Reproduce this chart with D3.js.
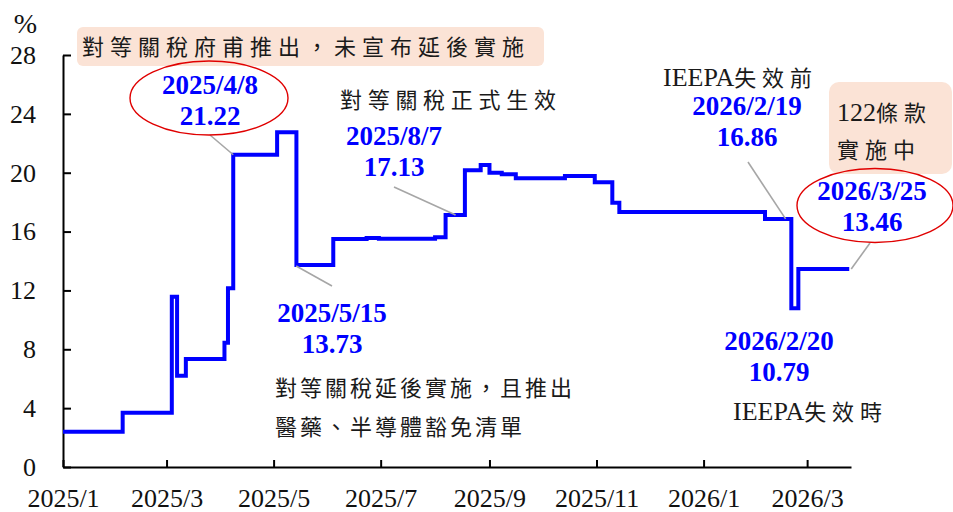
<!DOCTYPE html>
<html>
<head>
<meta charset="utf-8">
<script src="https://cdn.jsdelivr.net/npm/d3@7"></script>
<style>
  html, body { margin: 0; padding: 0; background: #fff; }
  svg { display: block; }
</style>
</head>
<body>
<svg id="chart" width="953" height="512"></svg>
<script>
// Effective US tariff rate (%), step series: each value holds from its date until the next one
const dates = ["2025-01-01","2025-02-04","2025-03-04","2025-03-07","2025-03-12","2025-04-03","2025-04-05",
  "2025-04-08","2025-05-03","2025-05-14","2025-06-04","2025-06-23","2025-06-30","2025-08-01","2025-08-07",
  "2025-08-18","2025-08-27","2025-09-01","2025-09-08","2025-09-16","2025-10-14","2025-10-31","2025-11-10",
  "2025-11-14","2026-02-05","2026-02-20","2026-02-24","2026-03-25"];
const rates = [2.40,3.69,11.57,6.20,7.34,8.45,12.14,
  21.22,22.75,13.73,15.50,15.56,15.52,15.62,17.13,
  20.16,20.52,20.00,19.90,19.62,19.78,19.35,17.96,
  17.33,16.86,10.79,13.46,13.46];

const xTickDates = ["2025-01-01","2025-03-01","2025-05-01","2025-07-01","2025-09-01","2025-11-01","2026-01-01","2026-03-01"];
const yTicks = [0,4,8,12,16,20,24,28];
const xDomain = ["2025-01-01","2026-03-26"];

// Called-out dates on the series
const calloutDates = ["2025-04-08","2025-05-15","2025-08-07","2026-02-19","2026-02-20","2026-03-25"];

const parse = d3.timeParse("%Y-%m-%d");
const series = dates.map((d, i) => ({ date: parse(d), value: rates[i] }));

const svg = d3.select("#chart");
const x = d3.scaleTime().domain(xDomain.map(parse)).range([63, 851]);
const y = d3.scaleLinear().domain([0, 28]).range([467, 55]);

const BLUE = "#0000ff";
const SERIF = "'Liberation Serif','Times New Roman',serif";
const CJK = "'Noto Sans CJK TC','Noto Sans CJK SC',sans-serif";

// value of the step series on a given day
const bis = d3.bisector(d => d.date).right;
function valueAt(date) { return series[Math.max(0, bis(series, date) - 1)].value; }

// ---- peach note boxes
svg.append("rect").attr("x", 77).attr("y", 27).attr("width", 467).attr("height", 39)
  .attr("rx", 6).attr("fill", "#fbe3d6");
svg.append("rect").attr("x", 829).attr("y", 82).attr("width", 123).attr("height", 92)
  .attr("rx", 10).attr("fill", "#fbe3d6");

// ---- axes
const yAxis = d3.axisLeft(y).tickValues(yTicks).tickSizeInner(-8).tickSizeOuter(0).tickPadding(27);
const xAxis = d3.axisBottom(x).tickValues(xTickDates.map(parse)).tickFormat(d3.timeFormat("%Y/%-m"))
  .tickSizeInner(-7).tickSizeOuter(0).tickPadding(22);

const gy = svg.append("g").attr("transform", "translate(63,0)").call(yAxis);
const gx = svg.append("g").attr("transform", "translate(0,467)").call(xAxis);
[gx, gy].forEach(g => {
  g.select(".domain").attr("stroke", "#000").attr("stroke-width", 2);
  g.selectAll(".tick line").attr("stroke", "#000").attr("stroke-width", 2);
  g.selectAll(".tick text").attr("fill", "#111").style("font-family", SERIF).style("font-size", "26px");
});

svg.append("text").attr("x", 37).attr("y", 33).attr("text-anchor", "end")
  .style("font-family", SERIF).style("font-size", "28px").attr("fill", "#111").text("%");

// ---- series line
const line = d3.line().x(d => x(d.date)).y(d => y(d.value)).curve(d3.curveStepAfter);
svg.append("path").datum(series).attr("d", line)
  .attr("fill", "none").attr("stroke", BLUE).attr("stroke-width", 4);

// ---- callouts: label placement and leader lines
const fmtDate = d3.timeFormat("%Y/%-m/%-d");
const callouts = [
  { cx: 210, by: 94,  lead: [210, 135], tip: [0, 0] },
  { cx: 332, by: 322, lead: [332, 286], tip: [-2, 1] },
  { cx: 394, by: 145, lead: [394, 187], tip: [10, 0] },
  { cx: 747, by: 115, lead: [748, 162], tip: [-4, 0] },
  { cx: 779, by: 350, lead: null,       tip: [0, 0] },
  { cx: 872, by: 200, lead: [870, 243], tip: [2, 0] }
];
callouts.forEach((c, i) => {
  const dt = parse(calloutDates[i]);
  const v = valueAt(dt);
  if (c.lead) {
    svg.append("line").attr("x1", c.lead[0]).attr("y1", c.lead[1])
      .attr("x2", x(dt) + c.tip[0]).attr("y2", y(v) + c.tip[1])
      .attr("stroke", "#a6a6a6").attr("stroke-width", 1.6);
  }
  const t = svg.append("text").attr("text-anchor", "middle").attr("fill", BLUE)
    .style("font-family", SERIF).style("font-size", "27px").style("font-weight", "bold");
  t.append("tspan").attr("x", c.cx).attr("y", c.by).text(fmtDate(dt));
  t.append("tspan").attr("x", c.cx).attr("y", c.by + 31).text(v.toFixed(2));
});

// ---- red ellipses
svg.append("ellipse").attr("cx", 209).attr("cy", 98).attr("rx", 79).attr("ry", 37)
  .attr("fill", "none").attr("stroke", "#e00000").attr("stroke-width", 1.4);
svg.append("ellipse").attr("cx", 875).attr("cy", 205.5).attr("rx", 78).attr("ry", 37)
  .attr("fill", "none").attr("stroke", "#e00000").attr("stroke-width", 1.4);

// ---- notes (mixed Latin / CJK runs)
function note(xp, yb, parts, spacing) {
  const t = svg.append("text").attr("x", xp).attr("y", yb).attr("fill", "#1a1a1a");
  parts.forEach(p => {
    const latin = /^[A-Za-z0-9]+$/.test(p);
    t.append("tspan").text(p)
      .style("font-family", latin ? SERIF : CJK)
      .style("font-size", latin ? "26px" : "22px")
      .style("letter-spacing", latin ? "0px" : spacing + "px");
  });
}
note(82, 55, ["對等關稅府甫推出，未宣布延後實施"], 6);
note(340, 108, ["對等關稅正式生效"], 5.7);
note(275, 396, ["對等關稅延後實施，且推出"], 3);
note(275, 435, ["醫藥、半導體豁免清單"], 3);
note(663, 86, ["IEEPA", "失效前"], 5.8);
note(733, 420, ["IEEPA", "失效時"], 5.8);
note(837, 121, ["122", "條款"], 6);
note(837, 158, ["實施中"], 6);
</script>
</body>
</html>
